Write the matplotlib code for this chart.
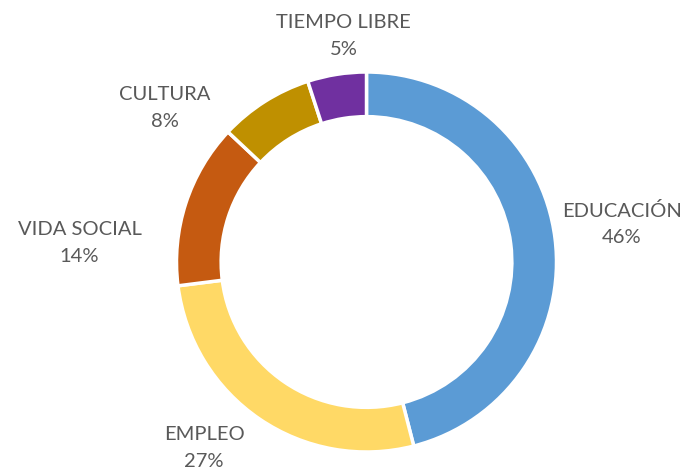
import matplotlib
matplotlib.use("Agg")
import matplotlib.pyplot as plt

categories = ["EDUCACIÓN", "EMPLEO", "VIDA SOCIAL", "CULTURA", "TIEMPO LIBRE"]
shares = [46, 27, 14, 8, 5]
colors = ["#5B9BD5", "#FFD966", "#C55A11", "#BF9000", "#7030A0"]

# label centres in axes data units (outer radius = 1)
label_pos = [(1.345, 0.20), (-0.855, -0.98), (-1.51, 0.10), (-1.06, 0.81), (-0.12, 1.19)]

W, H = 683, 470
cx, cy, r = 366.5, 262, 190

fig = plt.figure(figsize=(W / 100, H / 100), dpi=100)
ax = fig.add_axes([(cx - r) / W, (H - cy - r) / H, 2 * r / W, 2 * r / H])

ax.pie(shares, colors=colors, startangle=90, counterclock=False, radius=1,
       wedgeprops=dict(width=0.235, edgecolor="white", linewidth=2.5))
ax.set_xlim(-1, 1)
ax.set_ylim(-1, 1)
ax.set_aspect("equal")
ax.axis("off")

total = sum(shares)
for name, v, (x, y) in zip(categories, shares, label_pos):
    ax.text(x, y, f"{name}\n{round(100 * v / total)}%", ha="center", va="center",
            fontsize=14.5, family="Lato", color="#595959", linespacing=1.7,
            clip_on=False)

fig.savefig("out.png", dpi=100)
